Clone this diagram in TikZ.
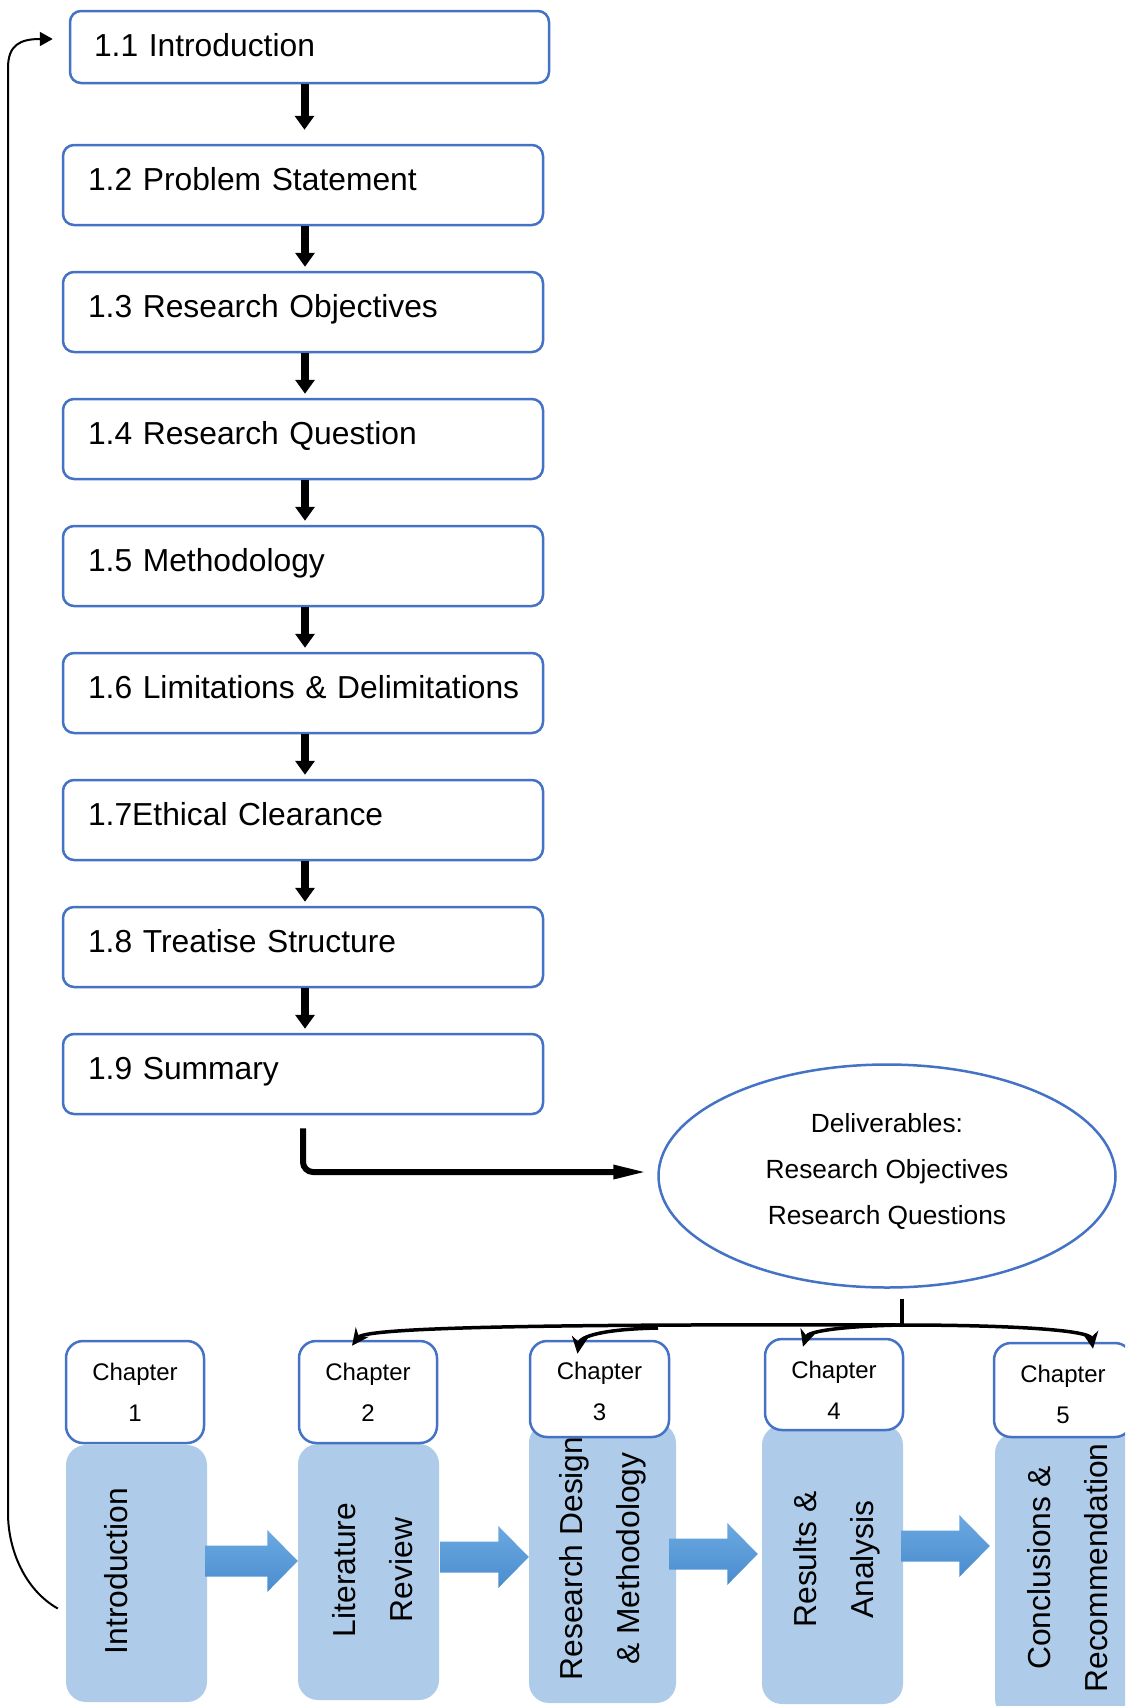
\documentclass[tikz,border=0pt]{standalone}
\usepackage{fontspec}
\setmainfont{Liberation Sans}
\usetikzlibrary{arrows.meta,shapes.geometric,calc}
\definecolor{bordercol}{HTML}{4472C4}
\definecolor{lightblue}{HTML}{AECCE9}
\definecolor{arrtop}{HTML}{6BA9E0}
\definecolor{arrbot}{HTML}{4A8CCF}
\begin{document}
\begin{tikzpicture}[x=1pt,y=-1pt,
  secbox/.style={draw=bordercol, line width=2.5pt, rounded corners=11pt, fill=white,
    minimum height=80pt, minimum width=480pt, text width=430pt, inner xsep=25pt,
    inner ysep=0pt, align=left, font=\fontsize{31.8}{38}\selectfont,
    text height=24pt, text depth=14pt},
  varrow/.style={line width=8pt, -{Triangle[width=19pt,length=14pt]}, shorten >=4pt},
  bluebox/.style={fill=lightblue, draw=none, rounded corners=20pt, inner sep=0pt},
  chapbox/.style={draw=bordercol, line width=2.5pt, rounded corners=17pt, fill=white,
    inner sep=0pt, align=center, font=\fontsize{24}{41}\selectfont},
  rtext/.style={rotate=90, align=center, inner sep=0pt, font=\fontsize{31.8}{57}\selectfont},
  barrow/.style={top color=arrtop, bottom color=arrbot, draw=none},
  treeline/.style={line width=3.5pt},
  treearrow/.style={line width=3.5pt, -{Stealth[length=17pt,width=16pt]}},
  larrow/.style={line width=6pt, rounded corners=10pt, -{Triangle[width=13pt,length=34pt]}},
  fback/.style={line width=2pt, -{Triangle[width=14pt,length=13pt]}}
]
\useasboundingbox (0,0) rectangle (1125,1706);
\clip (0,0) rectangle (1125,1706);

% section boxes
\node[secbox, minimum width=479pt, minimum height=72pt, text width=431pt, inner xsep=24pt,
      text height=24pt, text depth=6pt] (s1) at (309.5,47) {1.1 Introduction};
\node[secbox] (s2) at (303,185) {1.2 Problem Statement};
\node[secbox] (s3) at (303,312) {1.3 Research Objectives};
\node[secbox] (s4) at (303,439) {1.4 Research Question};
\node[secbox] (s5) at (303,566) {1.5 Methodology};
\node[secbox] (s6) at (303,693) {\mbox{1.6 Limitations \& Delimitations}};
\node[secbox] (s7) at (303,820) {1.7Ethical Clearance};
\node[secbox] (s8) at (303,947) {1.8 Treatise Structure};
\node[secbox] (s9) at (303,1074) {1.9 Summary};

\draw[varrow, shorten >=14pt] ([xshift=-5pt]s1.south) -- ([xshift=1.5pt]s2.north);
\draw[varrow] ([xshift=2pt]s2.south) -- ([xshift=2pt]s3.north);
\draw[varrow] ([xshift=2pt]s3.south) -- ([xshift=2pt]s4.north);
\draw[varrow] ([xshift=2pt]s4.south) -- ([xshift=2pt]s5.north);
\draw[varrow] ([xshift=2pt]s5.south) -- ([xshift=2pt]s6.north);
\draw[varrow] ([xshift=2pt]s6.south) -- ([xshift=2pt]s7.north);
\draw[varrow] ([xshift=2pt]s7.south) -- ([xshift=2pt]s8.north);
\draw[varrow] ([xshift=2pt]s8.south) -- ([xshift=2pt]s9.north);

% ellipse
\node[ellipse, draw=bordercol, line width=2.5pt, minimum width=457pt, minimum height=223pt,
      inner sep=0pt, align=center, font=\fontsize{26.3}{46}\selectfont, text depth=14pt] (ell) at (887,1176)
      {Deliverables:\\Research Objectives\\Research Questions};

\draw[larrow] ([yshift=-13pt]s9.south) |- ([xshift=-10pt,yshift=4pt]ell.west);

% blue chapter bodies
\node[bluebox, minimum width=141pt, minimum height=257pt] (b1) at (136.5,1573.5) {};
\node[bluebox, minimum width=141pt, minimum height=256pt] (b2) at (368.5,1572) {};
\node[bluebox, minimum width=147pt, minimum height=280pt] (b3) at (602.5,1563) {};
\node[bluebox, minimum width=141pt, minimum height=279pt] (b4) at (832.5,1564.5) {};
\node[bluebox, minimum width=141pt, minimum height=286pt] (b5) at (1065.5,1576) {};

% block arrows
\shade[barrow] let \p1=([xshift=-2pt,yshift=12.5pt]b1.east), \p2=(b2.west) in
  (\x1,\y1+15.5pt) -- (\x2-30.5pt,\y1+15.5pt) -- (\x2-30.5pt,\y1+31pt) -- (\x2,\y1)
  -- (\x2-30.5pt,\y1-31pt) -- (\x2-30.5pt,\y1-15.5pt) -- (\x1,\y1-15.5pt) -- cycle;
\shade[barrow] let \p1=([xshift=1pt,yshift=15pt]b2.east), \p2=(b3.west) in
  (\x1,\y1+15.5pt) -- (\x2-30.5pt,\y1+15.5pt) -- (\x2-30.5pt,\y1+31pt) -- (\x2,\y1)
  -- (\x2-30.5pt,\y1-31pt) -- (\x2-30.5pt,\y1-15.5pt) -- (\x1,\y1-15.5pt) -- cycle;
\shade[barrow] let \p1=([xshift=-7pt,yshift=9pt]b3.east), \p2=([xshift=-4pt]b4.west) in
  (\x1,\y1+15.5pt) -- (\x2-30.5pt,\y1+15.5pt) -- (\x2-30.5pt,\y1+31pt) -- (\x2,\y1)
  -- (\x2-30.5pt,\y1-31pt) -- (\x2-30.5pt,\y1-15.5pt) -- (\x1,\y1-15.5pt) -- cycle;
\shade[barrow] let \p1=([xshift=-2pt,yshift=18.5pt]b4.east), \p2=([xshift=-5pt]b5.west) in
  (\x1,\y1+15.5pt) -- (\x2-30.5pt,\y1+15.5pt) -- (\x2-30.5pt,\y1+31pt) -- (\x2,\y1)
  -- (\x2-30.5pt,\y1-31pt) -- (\x2-30.5pt,\y1-15.5pt) -- (\x1,\y1-15.5pt) -- cycle;

% rotated titles
\node[rtext] (t1) at (116,1571) {Introduction};
\node[rtext] (t2) at (372.5,1570) {Literature\\Review};
\node[rtext] (t3) at (603,1558.5) {Research Design\\\& Methodology};
\node[rtext] (t4) at (836.5,1559.5) {Results \&\\Analysis};
\node[rtext] (t5) at (1067.5,1568) {Conclusions \&\\Recommendation};

% chapter boxes
\node[chapbox, minimum width=138pt, minimum height=102pt] (ch1) at (135,1392) {Chapter\\1};
\node[chapbox, minimum width=138pt, minimum height=102pt] (ch2) at (368,1392) {Chapter\\2};
\node[chapbox, minimum width=139pt, minimum height=96pt, text height=63pt] (ch3) at (599.5,1389) {Chapter\\3};
\node[chapbox, minimum width=138pt, minimum height=91pt, text height=69.5pt] (ch4) at (834,1384.5) {Chapter\\4};
\node[chapbox, minimum width=138pt, minimum height=94pt, text height=67.5pt] (ch5) at (1063,1390) {Chapter\\5};

% tree from deliverables
\coordinate (junc) at (902,1325);
\coordinate (br3) at (658,1328);
\draw[treeline] ([xshift=15pt,yshift=-10pt]ell.south) -- (junc);
\draw[treearrow] (junc) .. controls (560,1324) and (366,1327) .. ([xshift=-16pt,yshift=-6pt]ch2.north);
\draw[treearrow] (br3) .. controls (605,1329) and (580,1336) .. ([xshift=-22pt,yshift=-14pt]ch3.north);
\draw[treearrow] (junc) .. controls (845,1326) and (808,1331) .. ([xshift=-31pt,yshift=-9pt]ch4.north);
\draw[treearrow] (junc) .. controls (1010,1325) and (1090,1330) .. ([xshift=30pt,yshift=-7pt]ch5.north);

% feedback loop
\draw[fback] ([xshift=-8pt,yshift=-35pt]b1.west) .. controls (25,1590) and (8,1550) .. (8,1513)
  -- (8,68) .. controls (8,45) and (20,39) .. ([xshift=-16pt,yshift=8pt]s1.west);
\end{tikzpicture}
\end{document}
